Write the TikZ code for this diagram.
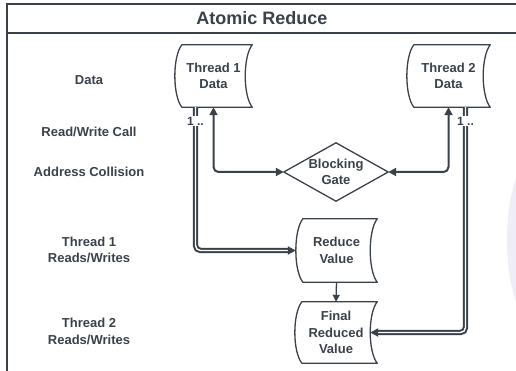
\documentclass[tikz,border=0pt]{standalone}
\usepackage{fontspec}
\setmainfont{Liberation Sans}
\usetikzlibrary{calc,arrows.meta}
\definecolor{dk}{HTML}{3A414A}
\definecolor{haze}{HTML}{EFEEF8}
\newcommand{\sdraw}[1]{%
  \draw[shp] ($(#1.north west)+(7,0)$) -- (#1.north east)
    .. controls ($(#1.north east)+(-9.3,12)$) and ($(#1.south east)+(-9.3,-12)$) .. (#1.south east)
    -- ($(#1.south west)+(7,0)$)
    .. controls ($(#1.south west)+(-2.3,-12)$) and ($(#1.north west)+(-2.3,12)$) .. cycle;}
\tikzset{
  shp/.style={draw=dk, line width=1.3pt, line join=round},
  box/.style={rectangle, inner sep=0pt, text=dk, align=center,
    font=\bfseries\fontsize{13}{16.5}\selectfont},
  lbl/.style={inner sep=0pt, text=dk, align=center,
    font=\bfseries\fontsize{13}{16.5}\selectfont},
  frameline/.style={draw=dk, line width=2pt},
  conn/.style={draw=dk, line width=2pt, rounded corners=5pt},
  dconn/.style={draw=dk, line width=2pt, double=white, double distance=1.4pt, rounded corners=5pt},
  ahead/.style={-{Triangle[length=8pt,width=8pt]}},
  bhead/.style={{Triangle[length=8pt,width=8pt]}-{Triangle[length=8pt,width=8pt]}},
  mult/.style={fill=white, inner sep=1pt, text=dk, font=\bfseries\fontsize{12}{13}\selectfont},
}
\begin{document}
\begin{tikzpicture}[x=1pt,y=-1pt]
\useasboundingbox (0,0) rectangle (516,371);
\begin{scope}
\clip (0,0) rectangle (516,371);
\fill[haze] (537,240) ellipse [x radius=30, y radius=87];
% frame
\draw[frameline] (7,380) -- (7,4) -- (530,4);
\draw[frameline] (7,33) -- (530,33);
\end{scope}
\node[lbl, font=\bfseries\fontsize{18}{20}\selectfont] (title) at (262,18) {Atomic Reduce};

% row labels
\node[lbl] (lData) at (89,80) {Data};
\node[lbl] (lRW) at (89,132) {Read/Write Call};
\node[lbl] (lAC) at (89,172) {Address Collision};
\node[lbl] (lT1) at (89,250) {Thread 1\\Reads/Writes};
\node[lbl] (lT2) at (89,331.5) {Thread 2\\Reads/Writes};

% shapes
\node[box, minimum width=77pt, minimum height=62pt] (t1) at (213.5,76) {Thread 1\\Data};
\node[box, minimum width=83pt, minimum height=62pt] (t2) at (448.5,76) {Thread 2\\Data};
\node[box, minimum width=81pt, minimum height=63pt] (red) at (336.5,250.5) {Reduce\\Value};
\node[box, minimum width=82pt, minimum height=61pt] (fin) at (336,332.5) {Final\\Reduced\\Value};
\node[box, minimum width=104pt, minimum height=58pt] (gate) at (336,172) {Blocking\\Gate};
\sdraw{t1}
\sdraw{t2}
\sdraw{red}
\sdraw{fin}
\draw[shp] (gate.north) -- (gate.east) -- (gate.south) -- (gate.west) -- cycle;

% helper coordinates
\coordinate (t1out) at ($(t1.south)+(-18,0)$);
\coordinate (t2out) at ($(t2.south)+(17,0)$);
\coordinate (finR) at ($(fin.east)+(-7,0)$);

% connectors
\draw[conn, bhead] (t1.south) |- (gate.west);
\draw[conn, bhead] (t2.south) |- (gate.east);
\draw[dconn, ahead] (t1out) |- (red.west);
\draw[dconn, ahead] (t2out) |- (finR);
\draw[draw=dk, line width=1.3pt, -{Triangle[length=7pt,width=7pt]}] (red.south) -- (fin.north);

\node[mult] (m1) at ($(t1out)+(0,14)$) {1 ..};
\node[mult] (m2) at ($(t2out)+(0,14)$) {1 ..};
\end{tikzpicture}
\end{document}
